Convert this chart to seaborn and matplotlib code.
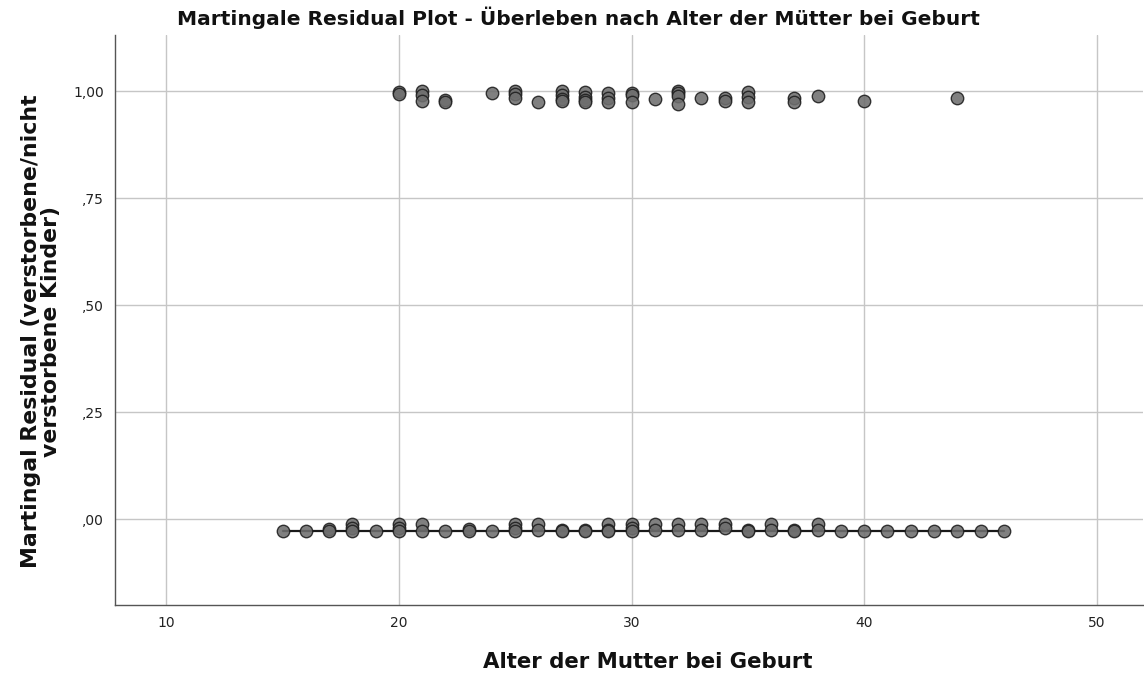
import numpy as np
import pandas as pd
import matplotlib
matplotlib.use("Agg")
import matplotlib.pyplot as plt
import seaborn as sns

# Martingale residuals of children who died (event = 1): age of mother, residual
died_age = [20, 20,
            21, 21, 21,
            22, 22,
            24,
            25, 25, 25,
            26,
            27, 27, 27, 27,
            28, 28, 28, 28,
            29, 29, 29,
            30, 30, 30,
            31,
            32, 32, 32, 32,
            33,
            34, 34,
            35, 35, 35,
            37, 37,
            38,
            40,
            44]
died_resid = [0.998, 0.993,
              1.000, 0.990, 0.977,
              0.979, 0.975,
              0.995,
              1.000, 0.993, 0.983,
              0.975,
              1.000, 0.990, 0.982, 0.976,
              0.997, 0.987, 0.980, 0.975,
              0.995, 0.985, 0.975,
              0.996, 0.990, 0.975,
              0.981,
              1.000, 0.996, 0.988, 0.971,
              0.985,
              0.983, 0.977,
              0.998, 0.987, 0.974,
              0.983, 0.974,
              0.989,
              0.977,
              0.985]

# Martingale residuals of surviving (censored) children
alive_age = [15, 16,
             17, 17,
             18, 18, 18,
             19,
             20, 20, 20,
             21, 21,
             22,
             23, 23,
             24,
             25, 25, 25,
             26, 26,
             27, 27,
             28, 28,
             29, 29, 29,
             30, 30, 30,
             31, 31,
             32, 32,
             33, 33,
             34, 34,
             35, 35,
             36, 36,
             37, 37,
             38, 38,
             39, 40, 41, 42, 43, 44, 45, 46]
alive_resid = [-0.028, -0.028,
               -0.022, -0.028,
               -0.012, -0.021, -0.028,
               -0.028,
               -0.012, -0.021, -0.028,
               -0.012, -0.028,
               -0.028,
               -0.022, -0.028,
               -0.028,
               -0.012, -0.021, -0.028,
               -0.011, -0.024,
               -0.024, -0.028,
               -0.024, -0.028,
               -0.012, -0.024, -0.028,
               -0.012, -0.021, -0.028,
               -0.012, -0.024,
               -0.012, -0.024,
               -0.012, -0.024,
               -0.012, -0.021,
               -0.024, -0.028,
               -0.012, -0.024,
               -0.025, -0.028,
               -0.011, -0.026,
               -0.028, -0.028, -0.028, -0.028, -0.028, -0.028, -0.028, -0.028]

# Reference line through the censored cases
ref_age = [15, 46]
ref_resid = [-0.028, -0.028]

x_ticks = [10, 20, 30, 40, 50]
y_ticks = [0.0, 0.25, 0.50, 0.75, 1.00]
y_tick_labels = [",00", ",25", ",50", ",75", "1,00"]

df = pd.DataFrame({
    "age": died_age + alive_age,
    "resid": died_resid + alive_resid,
})
ref = pd.DataFrame({"age": ref_age, "resid": ref_resid})

sns.set_theme(style="white")
plt.rcParams["font.family"] = ["DejaVu Sans"]

fig = plt.figure(figsize=(11.44, 6.74), dpi=100)
ax = fig.add_axes([0.1005, 0.1024, 0.899, 0.8456])

ax.set_axisbelow(True)
ax.grid(True, color="#c6c6c6", linewidth=1.0)

sns.lineplot(data=ref, x="age", y="resid", ax=ax, color="#1a1a1a",
             linewidth=1.6, zorder=2)
sns.scatterplot(data=df, x="age", y="resid", ax=ax, s=80,
                color="#6e6e6e", edgecolor="#1e1e1e", linewidth=1.0,
                alpha=0.88, zorder=3)

ax.set_xlim(7.8, 52.0)
ax.set_ylim(-0.20, 1.131)
ax.set_xticks(x_ticks)
ax.set_xticklabels([str(v) for v in x_ticks])
ax.set_yticks(y_ticks)
ax.set_yticklabels(y_tick_labels)
ax.tick_params(axis="both", length=0, labelsize=10, labelcolor="#222222")
ax.tick_params(axis="x", pad=8)
ax.tick_params(axis="y", pad=8)

for side in ("top", "right"):
    ax.spines[side].set_visible(False)
for side in ("left", "bottom"):
    ax.spines[side].set_color("#555555")
    ax.spines[side].set_linewidth(1.0)

ax.set_xlabel("Alter der Mutter bei Geburt", fontsize=15.3, fontweight="bold",
              color="#111111")
ax.xaxis.set_label_coords(0.518, -0.082)
ax.set_ylabel("Martingal Residual (verstorbene/nicht\nverstorbene Kinder)",
              fontsize=15.8, fontweight="bold", color="#111111",
              linespacing=1.05)
ax.yaxis.set_label_coords(-0.072, 0.48)
ax.yaxis.label.set_verticalalignment("center")

fig.suptitle("Martingale Residual Plot - Überleben nach Alter der Mütter bei Geburt",
             x=0.506, y=0.99, fontsize=14.5, fontweight="bold", color="#111111")

fig.savefig("out.png", dpi=100)
